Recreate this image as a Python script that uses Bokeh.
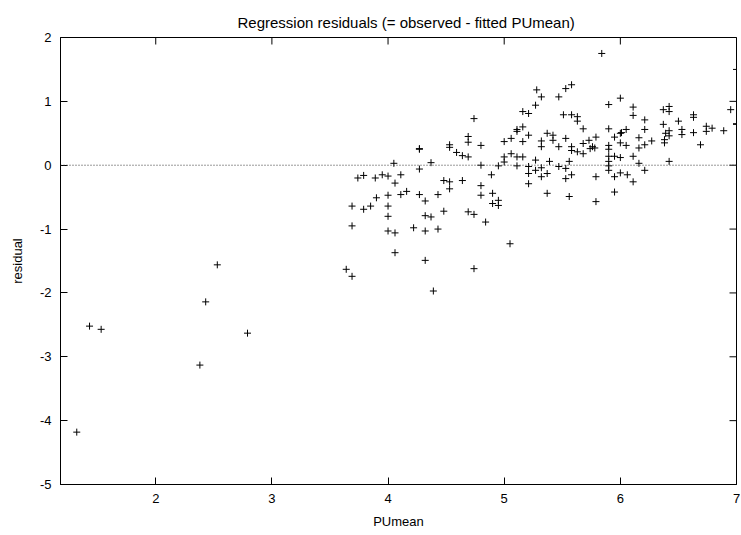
import math
from bokeh.plotting import figure
from bokeh.models import Span, FixedTicker, Range1d, ColumnDataSource
from bokeh.embed import file_html
from bokeh.resources import INLINE

pumean = [1.32, 1.43, 1.53, 2.38, 2.43, 2.53, 2.79,
          3.64, 3.69, 3.69, 3.69, 3.74, 3.79, 3.79, 3.85, 3.89, 3.90, 3.95,
          4.00, 4.00, 4.00, 4.00, 4.00, 4.05, 4.06, 4.06, 4.06, 4.11, 4.11, 4.16, 4.22,
          4.27, 4.27, 4.27, 4.27, 4.32, 4.32, 4.32, 4.32, 4.37, 4.37, 4.39, 4.43, 4.43, 4.48, 4.48,
          4.53, 4.53, 4.53, 4.53, 4.59, 4.64, 4.64, 4.69, 4.69, 4.69, 4.69, 4.74, 4.74, 4.74,
          4.80, 4.80, 4.80, 4.80, 4.84, 4.89, 4.90, 4.90, 4.95, 4.95, 4.95,
          5.00, 5.00, 5.00, 5.06, 5.06, 5.05, 5.11, 5.11, 5.11, 5.11,
          5.16, 5.16, 5.16, 5.16, 5.21, 5.21, 5.21, 5.21, 5.21, 5.27, 5.27, 5.27, 5.28,
          5.32, 5.32, 5.32, 5.32, 5.32, 5.37, 5.37, 5.37, 5.39, 5.42, 5.42, 5.47, 5.47, 5.47,
          5.51, 5.53, 5.53, 5.53, 5.53, 5.56, 5.56, 5.58, 5.58, 5.58, 5.58, 5.58,
          5.63, 5.63, 5.63, 5.68, 5.68, 5.68, 5.73, 5.74, 5.76, 5.78, 5.79, 5.79, 5.79,
          5.84, 5.90, 5.90, 5.90, 5.90, 5.90, 5.90, 5.90, 5.90, 5.95, 5.95, 5.95, 5.95,
          6.00, 6.00, 6.01, 6.00, 6.00, 6.00, 6.05, 6.05, 6.06, 6.11, 6.11, 6.11, 6.11,
          6.16, 6.16, 6.16, 6.21, 6.21, 6.21, 6.21, 6.27, 6.37, 6.37, 6.38, 6.38, 6.39,
          6.42, 6.42, 6.42, 6.42, 6.42, 6.50, 6.53, 6.53, 6.63, 6.63, 6.63, 6.69, 6.74, 6.74,
          6.79, 6.89, 6.95, 7.00, 7.00, 7.00]

residual = [-4.18, -2.52, -2.57, -3.13, -2.14, -1.56, -2.63,
            -1.63, -1.74, -0.64, -0.95, -0.20, -0.16, -0.69, -0.64, -0.20, -0.51, -0.15,
            -0.17, -0.47, -0.64, -0.80, -1.03, 0.03, -0.28, -1.06, -1.37, -0.15, -0.46, -0.41, -0.98,
            0.26, 0.25, -0.06, -0.46, -0.56, -0.79, -1.03, -1.49, 0.04, -0.81, -1.97, -0.46, -1.00, -0.24, -0.72,
            0.32, 0.28, -0.26, -0.37, 0.20, 0.15, -0.24, 0.45, 0.36, 0.13, -0.73, 0.73, -0.77, -1.62,
            0.31, 0.00, -0.32, -0.47, -0.89, -0.15, -0.44, -0.60, -0.01, -0.55, -0.63,
            0.37, 0.13, 0.05, 0.42, 0.18, -1.23, -0.01, 0.56, 0.53, 0.13,
            0.84, 0.60, 0.37, 0.13, 0.81, 0.47, -0.02, -0.13, -0.29, 0.94, 0.08, -0.08, 1.18,
            1.07, 0.38, 0.29, -0.04, -0.18, 0.50, -0.13, -0.44, 0.06, 0.47, 0.39, 1.07, 0.29, -0.02,
            0.79, 1.20, 0.42, -0.05, -0.21, 0.06, -0.49, 1.26, 0.79, 0.29, 0.23, -0.15,
            0.76, 0.69, 0.21, 0.57, 0.34, 0.18, 0.39, 0.26, 0.29, 0.27, 0.44, -0.18, -0.57,
            1.75, 0.95, 0.57, 0.31, 0.25, 0.14, 0.06, -0.01, -0.08, 0.44, 0.14, -0.18, -0.42,
            1.05, 0.50, 0.51, 0.35, 0.12, -0.12, 0.56, 0.31, -0.15, 0.91, 0.78, 0.14, -0.26,
            0.43, 0.27, 0.03, 0.71, 0.56, 0.32, -0.08, 0.38, 0.87, 0.64, 0.40, 0.35, 0.50,
            0.54, 0.46, 0.92, 0.84, 0.06, 0.69, 0.56, 0.48, 0.79, 0.75, 0.51, 0.32, 0.61, 0.53,
            0.58, 0.54, 0.87, 0.64, 0.65, 1.50]

x_ticks = [2, 3, 4, 5, 6, 7]
y_ticks = [-5, -4, -3, -2, -1, 0, 1, 2]
x_limits = [1.18, 7.0]
y_limits = [-5, 2]

FONT = "Liberation Sans"
FS = "13px"

p = figure(frame_width=676, frame_height=447, output_backend="svg", toolbar_location=None,
           x_range=Range1d(*x_limits), y_range=Range1d(*y_limits),
           title="Regression residuals (= observed - fitted PUmean)",
           min_border_left=60, min_border_right=4, min_border_top=37, min_border_bottom=42)

p.title.align = "left"
p.title.offset = 177
p.title.text_font = FONT
p.title.text_font_size = "15px"
p.title.text_font_style = "normal"
p.title.text_color = "black"
p.title.standoff = 14

p.xgrid.visible = False
p.ygrid.visible = False
p.outline_line_color = "black"
p.outline_line_width = 1
p.background_fill_color = "white"
p.border_fill_color = "white"

def style_axis(ax, ticks):
    ax.ticker = FixedTicker(ticks=ticks)
    ax.major_label_overrides = {t: str(t) for t in ticks}
    ax.major_tick_in = 7
    ax.major_tick_out = 0
    ax.minor_tick_line_color = None
    ax.major_tick_line_color = "black"
    ax.axis_line_color = "black"
    ax.major_label_text_font = FONT
    ax.major_label_text_font_size = FS
    ax.major_label_text_color = "black"
    ax.axis_label_text_font = FONT
    ax.axis_label_text_font_size = FS
    ax.axis_label_text_font_style = "normal"
    ax.axis_label_text_color = "black"

xa = p.xaxis[0]
style_axis(xa, x_ticks)
xa.axis_label = "PUmean"
xa.major_label_standoff = 9
xa.axis_label_standoff = 8

ya = p.yaxis[0]
style_axis(ya, y_ticks)
ya.axis_label = "residual"
ya.major_label_standoff = 9
ya.axis_label_standoff = 12

# mirrored inward ticks on the top and right borders (clipped to the frame)
p.scatter(x=x_ticks, y=[y_limits[1]] * len(x_ticks), marker="dash", angle=math.pi / 2,
          size=14, line_color="black", line_width=1)
p.scatter(x=[x_limits[1]] * len(y_ticks), y=y_ticks, marker="dash",
          size=14, line_color="black", line_width=1)

p.add_layout(Span(location=0, dimension="width", line_color="#333333",
                  line_width=1, line_dash="1 2"))

src = ColumnDataSource(dict(x=pumean, y=residual))
p.scatter("x", "y", source=src, marker="cross", size=7,
          line_color="black", line_width=1)

open("out.html", "w").write(file_html(p, INLINE))
